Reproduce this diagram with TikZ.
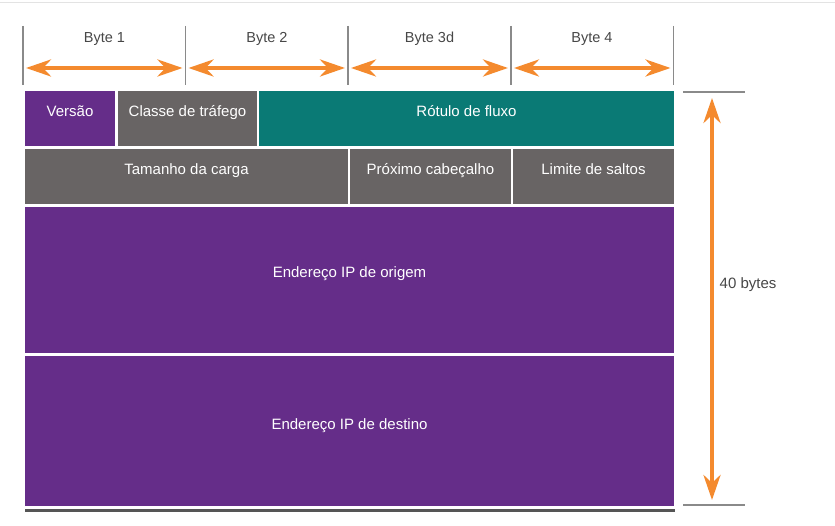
\documentclass[tikz,border=0pt]{standalone}
\usepackage{fontspec}
\setmainfont{Liberation Sans}
\usetikzlibrary{arrows.meta}

\definecolor{ipPurple}{HTML}{652D89}
\definecolor{ipTeal}{HTML}{0A7A75}
\definecolor{ipGray}{HTML}{686464}
\definecolor{ipOrange}{HTML}{F48A2E}
\definecolor{tickGray}{HTML}{8A8A8A}
\definecolor{labelGray}{HTML}{474747}
\definecolor{ruleGray}{HTML}{E3E3E3}
\definecolor{shadowGray}{HTML}{555555}

\tikzset{
  field/.style={anchor=north west, inner sep=0pt, outer sep=0pt, draw=none},
  fieldtext/.style={text=white, inner sep=0pt, text height=11pt, text depth=3pt,
    font=\fontsize{15}{18}\selectfont, yshift=6pt},
  bytelabel/.style={text=labelGray, inner sep=0pt, text height=11pt, text depth=3pt,
    font=\fontsize{14.5}{17}\selectfont},
  span/.style={draw=ipOrange, line width=4pt,
    {Stealth[length=25pt,width=17pt,inset=8pt]}-{Stealth[length=25pt,width=17pt,inset=8pt]}},
  tickline/.style={draw=tickGray, line width=1.3pt},
  limitline/.style={draw=tickGray, line width=1.6pt},
}

\begin{document}
\begin{tikzpicture}[x=1pt,y=-1pt]
  \useasboundingbox (0,0) rectangle (835,526);
  \fill[white] (0,0) rectangle (835,526);

  % faint rule along the top edge
  \draw[ruleGray, line width=1pt] (0,2.5) -- (835,2.5);

  % byte boundaries
  \foreach \i/\x in {0/23,1/185.5,2/348,3/511,4/673.5} {
    \coordinate (t\i) at (\x,26);
    \coordinate (b\i) at (\x,85);
    \coordinate (a\i) at (\x,68);
    \draw[tickline] (t\i) -- (b\i);
  }

  % byte spans
  \draw[span, shorten <=3pt, shorten >=3pt] (a0) -- (a1);
  \draw[span, shorten <=3pt, shorten >=3pt] (a1) -- (a2);
  \draw[span, shorten <=3pt, shorten >=3pt] (a2) -- (a3);
  \draw[span, shorten <=3pt, shorten >=3pt] (a3) -- (a4);

  \node[bytelabel] (byte1) at (104.5,38.5) {Byte 1};
  \node[bytelabel] (byte2) at (267,38.5) {Byte 2};
  \node[bytelabel] (byte3) at (429.5,38.5) {Byte 3d};
  \node[bytelabel] (byte4) at (592,38.5) {Byte 4};

  % header fields, row 1
  \node[field, fill=ipPurple, minimum width=90pt, minimum height=55pt,
        label={[fieldtext]center:Versão}] (versao) at (25,91) {};
  \node[field, fill=ipGray, minimum width=139pt, minimum height=55pt,
        label={[fieldtext]center:Classe de tráfego}] (classe) at (118,91) {};
  \node[field, fill=ipTeal, minimum width=415pt, minimum height=55pt,
        label={[fieldtext]center:Rótulo de fluxo}] (rotulo) at (259,91) {};

  % row 2
  \node[field, fill=ipGray, minimum width=323pt, minimum height=55pt,
        label={[fieldtext]center:Tamanho da carga}] (carga) at (25,149) {};
  \node[field, fill=ipGray, minimum width=161pt, minimum height=55pt,
        label={[fieldtext]center:Próximo cabeçalho}] (proximo) at (350,149) {};
  \node[field, fill=ipGray, minimum width=161pt, minimum height=55pt,
        label={[fieldtext]center:Limite de saltos}] (limite) at (513,149) {};

  % addresses
  \node[field, fill=ipPurple, minimum width=649pt, minimum height=146pt,
        label={[fieldtext]center:Endereço IP de origem}] (origem) at (25,207) {};
  \node[field, fill=ipPurple, minimum width=649pt, minimum height=150pt,
        label={[fieldtext]center:Endereço IP de destino}] (destino) at (25,356) {};

  % shadow under the header
  \draw[shadowGray, line width=2.5pt] (destino.south west) ++(0,4.3) -- ++(650,0);

  % total header length
  \coordinate (l1) at (683,92);
  \coordinate (r1) at (745,92);
  \coordinate (l2) at (683,505);
  \coordinate (r2) at (745,505);
  \coordinate (v1) at (712,92);
  \coordinate (v2) at (712,505);
  \draw[limitline] (l1) -- (r1);
  \draw[limitline] (l2) -- (r2);
  \draw[span, shorten <=6pt, shorten >=5pt] (v1) -- (v2);
  \node[bytelabel, anchor=west, font=\fontsize{15}{18}\selectfont] (total) at (719.5,284.5) {40 bytes};
\end{tikzpicture}
\end{document}
